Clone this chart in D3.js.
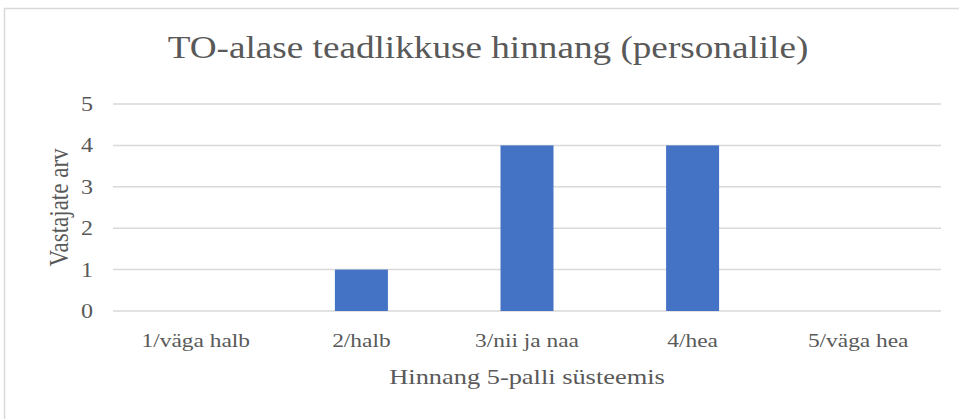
<!DOCTYPE html>
<html>
<head>
<meta charset="utf-8">
<script src="https://cdn.jsdelivr.net/npm/d3@7"></script>
<style>
  body { margin: 0; background: #fff; }
</style>
</head>
<body>
<svg width="959" height="419"></svg>
<script>
// chart data
var categories = ["1/väga halb", "2/halb", "3/nii ja naa", "4/hea", "5/väga hea"];
var values = [0, 1, 4, 4, 0];
var yTicks = [0, 1, 2, 3, 4, 5];

var FONT = "'Liberation Serif', 'Times New Roman', serif";
var TEXT = "#595959";
var STRETCH = 1.2; // the original picture is a bit wider than tall

var svg = d3.select("svg"),
    margin = {top: 104, right: 18, bottom: 108, left: 113},
    width = 959 - margin.left - margin.right,
    height = 419 - margin.top - margin.bottom;

// chart area border (cut off on the right and bottom)
svg.append("rect")
    .attr("x", 4.5).attr("y", 8.5)
    .attr("width", 1000).attr("height", 1000)
    .attr("fill", "none")
    .attr("stroke", "#d9d9d9")
    .attr("stroke-width", 1.5);

var g = svg.append("g").attr("transform", "translate(" + margin.left + "," + margin.top + ")");

var x = d3.scaleBand().domain(categories).range([0, width]).paddingInner(0.68).paddingOuter(0.34),
    y = d3.scaleLinear().domain([0, 5]).range([height, 0]);

// gridlines
g.append("g")
    .selectAll("line")
    .data(yTicks)
    .enter().append("line")
      .attr("x1", 0).attr("x2", width)
      .attr("y1", function(d) { return y(d); })
      .attr("y2", function(d) { return y(d); })
      .attr("stroke", "#d9d9d9")
      .attr("stroke-width", 1.5);

// y axis labels
var yAxis = g.append("g")
    .call(d3.axisLeft(y).tickValues(yTicks).tickFormat(d3.format("d")).tickSize(0).tickPadding(0));
yAxis.select(".domain").remove();
yAxis.selectAll("text")
    .attr("x", -20 / STRETCH)
    .attr("transform", "scale(" + STRETCH + ",1)")
    .attr("fill", TEXT)
    .style("font-family", FONT)
    .style("font-size", "20px");

// x axis labels
var xAxis = g.append("g")
    .attr("transform", "translate(0," + height + ")")
    .call(d3.axisBottom(x).tickSize(0).tickPadding(0));
xAxis.select(".domain").remove();
xAxis.selectAll("text")
    .attr("y", 36)
    .attr("dy", null)
    .attr("transform", "scale(" + STRETCH + ",1)")
    .attr("fill", TEXT)
    .style("font-family", FONT)
    .style("font-size", "19.5px");

// bars
g.selectAll(".bar")
    .data(values)
    .enter().append("rect")
      .attr("class", "bar")
      .attr("x", function(d, i) { return x(categories[i]); })
      .attr("y", function(d) { return y(d); })
      .attr("width", x.bandwidth())
      .attr("height", function(d) { return height - y(d); })
      .attr("fill", "#4472c4");

// title
svg.append("text")
    .attr("transform", "translate(488,58) scale(" + STRETCH + ",1)")
    .attr("text-anchor", "middle")
    .attr("fill", TEXT)
    .style("font-family", FONT)
    .style("font-size", "31px")
    .text("TO-alase teadlikkuse hinnang (personalile)");

// axis titles
svg.append("text")
    .attr("transform", "translate(" + (margin.left + width / 2) + ",384) scale(" + STRETCH + ",1)")
    .attr("text-anchor", "middle")
    .attr("fill", TEXT)
    .style("font-family", FONT)
    .style("font-size", "22px")
    .text("Hinnang 5-palli süsteemis");

svg.append("text")
    .attr("transform", "translate(68," + (margin.top + height / 2) + ") scale(" + STRETCH + ",1) rotate(-90)")
    .attr("text-anchor", "middle")
    .attr("fill", TEXT)
    .style("font-family", FONT)
    .style("font-size", "23px")
    .text("Vastajate arv");
</script>
</body>
</html>
